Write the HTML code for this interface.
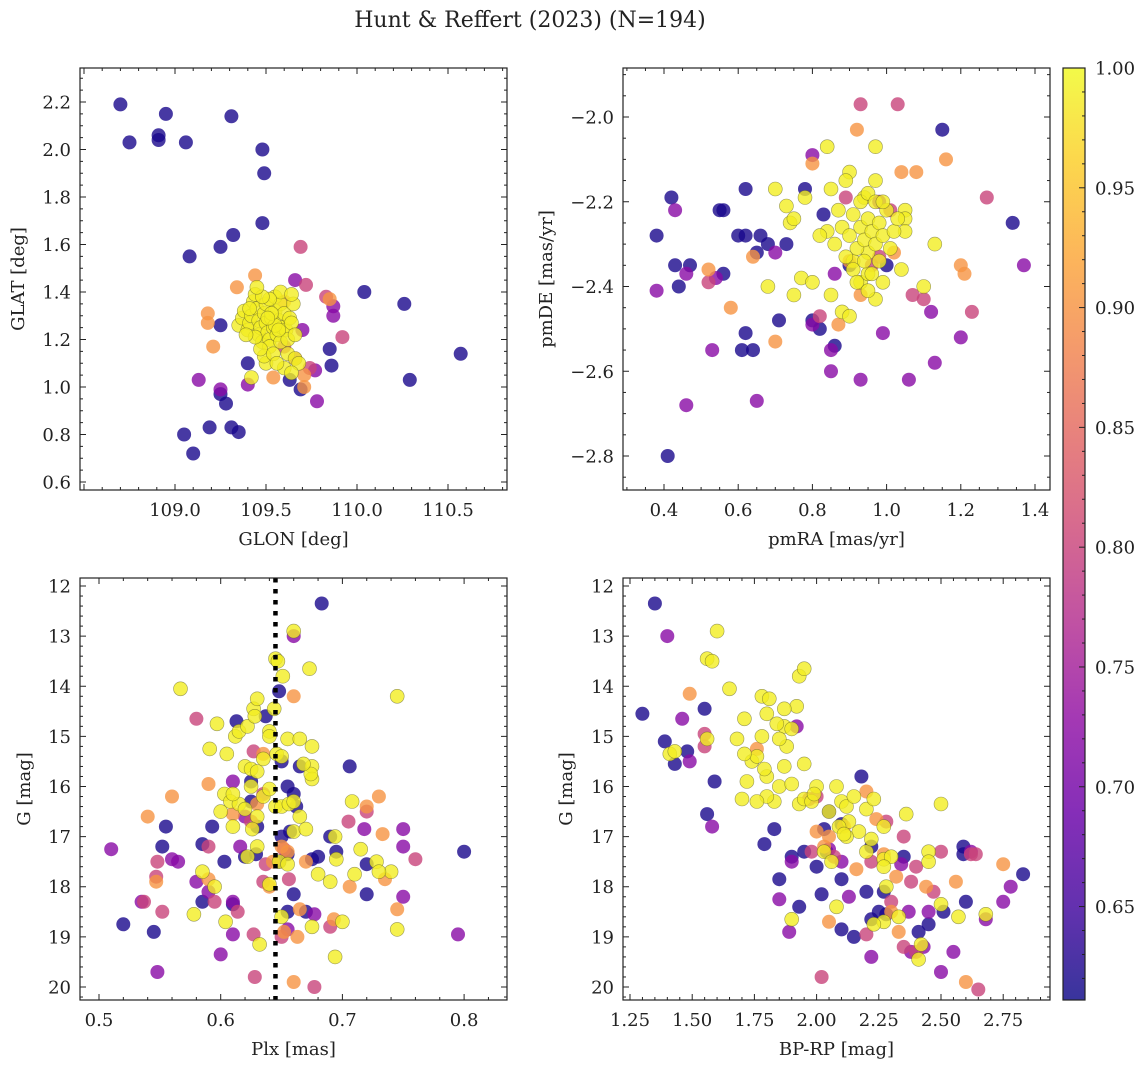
<!DOCTYPE html>
<html><head><meta charset="utf-8"><style>
html,body{margin:0;padding:0;background:#fff}
svg text{font-family:"DejaVu Serif","Liberation Serif",serif;fill:#222}
</style></head><body>
<svg id="fig" width="1148" height="1068" viewBox="0 0 1148 1068" xmlns="http://www.w3.org/2000/svg">
<text x="530" y="27" font-size="22" text-anchor="middle">Hunt &amp; Reffert (2023) (N=194)</text>
</svg>
<script>
// ---- data (value arrays) ----
const probLevels = [0.62, 0.72, 0.80, 0.90, 0.99];
// panel 1: [glon, glat, level index]
const glonGlat = [
[108.70,2.19,0],[108.75,2.03,0],[108.91,2.06,0],[108.91,2.04,0],[108.95,2.15,0],[109.06,2.03,0],[109.31,2.14,0],[109.48,2.00,0],[109.49,1.90,0],[109.48,1.69,0],[109.32,1.64,0],[109.25,1.59,0],[109.08,1.55,0],[110.04,1.40,0],[110.26,1.35,0],[110.57,1.14,0],[110.29,1.03,0],[109.85,1.16,0],[109.86,1.09,0],[109.19,0.83,0],[109.31,0.83,0],[109.35,0.81,0],[109.05,0.80,0],[109.10,0.72,0],[109.25,0.97,0],[109.28,0.93,0],[109.40,1.10,0],[109.25,1.26,0],[109.63,1.03,0],[109.69,0.99,0],
[109.13,1.03,1],[109.25,0.99,1],[109.40,1.01,1],[109.66,1.45,1],[109.87,1.34,1],[109.78,0.94,1],[109.77,1.07,1],[109.87,1.30,1],[109.70,1.24,1],
[109.69,1.59,2],[109.92,1.21,2],[109.72,1.43,2],[109.83,1.38,2],[109.74,1.08,2],[109.60,1.17,2],[109.66,1.12,2],
[109.44,1.47,3],[109.34,1.42,3],[109.18,1.31,3],[109.21,1.17,3],[109.18,1.27,3],[109.85,1.37,3],[109.71,1.05,3],[109.54,1.04,3],[109.71,1.00,3],[109.60,1.36,3],
[109.35,1.26,4],[109.37,1.29,4],[109.38,1.32,4],[109.40,1.24,4],[109.41,1.27,4],[109.42,1.30,4],[109.43,1.36,4],[109.44,1.39,4],[109.45,1.33,4],[109.46,1.28,4],[109.46,1.22,4],[109.47,1.25,4],[109.48,1.19,4],[109.49,1.31,4],[109.50,1.35,4],[109.50,1.27,4],[109.51,1.23,4],[109.52,1.20,4],[109.52,1.17,4],[109.53,1.29,4],[109.54,1.25,4],[109.55,1.32,4],[109.55,1.38,4],[109.56,1.22,4],[109.57,1.28,4],[109.58,1.35,4],[109.58,1.19,4],[109.59,1.25,4],[109.60,1.31,4],[109.61,1.24,4],[109.62,1.20,4],[109.63,1.29,4],[109.64,1.27,4],[109.65,1.35,4],[109.66,1.22,4],[109.62,1.14,4],[109.66,1.12,4],[109.68,1.10,4],[109.60,1.08,4],[109.64,1.06,4],[109.50,1.10,4],[109.49,1.13,4],[109.47,1.16,4],[109.58,1.40,4],[109.52,1.37,4],[109.48,1.38,4],[109.54,1.14,4],[109.56,1.10,4],[109.44,1.21,4],[109.39,1.22,4],[109.41,1.33,4],[109.64,1.39,4],[109.45,1.42,4],[109.42,1.04,4],[109.55,1.26,4],[109.53,1.31,4],[109.57,1.24,4],[109.51,1.29,4]];
// panel 2: [pmRA, pmDE, level]
const pmraPmde = [
[0.38,-2.28,0],[0.42,-2.19,0],[0.43,-2.35,0],[0.47,-2.35,0],[0.44,-2.40,0],[0.41,-2.80,0],[0.55,-2.22,0],[0.56,-2.22,0],[0.56,-2.37,0],[0.60,-2.28,0],[0.62,-2.17,0],[0.62,-2.28,0],[0.62,-2.51,0],[0.61,-2.55,0],[0.64,-2.55,0],[0.65,-2.32,0],[0.66,-2.28,0],[0.68,-2.30,0],[0.71,-2.48,0],[0.73,-2.30,0],[0.78,-2.17,0],[0.80,-2.48,0],[0.82,-2.50,0],[0.86,-2.54,0],[0.83,-2.23,0],[0.90,-2.35,0],[1.00,-2.35,0],[1.15,-2.03,0],[1.34,-2.25,0],
[0.43,-2.22,1],[0.38,-2.41,1],[0.46,-2.37,1],[0.46,-2.68,1],[0.54,-2.38,1],[0.53,-2.55,1],[0.65,-2.67,1],[0.70,-2.32,1],[0.80,-2.49,1],[0.85,-2.60,1],[0.85,-2.55,1],[0.86,-2.37,1],[0.80,-2.09,1],[0.99,-2.51,1],[0.93,-2.62,1],[1.06,-2.62,1],[1.37,-2.35,1],[1.12,-2.46,1],[1.20,-2.52,1],[1.13,-2.58,1],[0.98,-2.20,1],
[0.52,-2.39,2],[0.93,-1.97,2],[1.03,-1.97,2],[1.27,-2.19,2],[0.89,-2.19,2],[1.23,-2.46,2],[1.10,-2.43,2],[1.07,-2.42,2],[1.01,-2.22,2],[0.96,-2.35,2],[0.98,-2.33,2],[0.82,-2.47,2],
[0.52,-2.36,3],[0.58,-2.45,3],[0.70,-2.53,3],[0.64,-2.33,3],[0.92,-2.03,3],[1.16,-2.10,3],[1.04,-2.13,3],[1.08,-2.13,3],[0.80,-2.11,3],[1.21,-2.37,3],[1.20,-2.35,3],[0.93,-2.42,3],[0.87,-2.49,3],[0.90,-2.34,3],[1.02,-2.32,3],
[0.84,-2.07,4],[0.97,-2.15,4],[0.68,-2.40,4],[0.75,-2.42,4],[0.77,-2.38,4],[0.80,-2.39,4],[0.74,-2.25,4],[0.73,-2.21,4],[0.75,-2.24,4],[0.70,-2.17,4],[0.78,-2.19,4],[0.88,-2.46,4],[0.93,-2.39,4],[0.97,-2.43,4],[1.10,-2.40,4],[0.99,-2.39,4],[0.91,-2.34,4],[0.95,-2.32,4],[0.95,-2.37,4],[1.04,-2.36,4],[1.13,-2.30,4],[1.05,-2.22,4],[1.05,-2.24,4],[1.05,-2.27,4],[0.97,-2.07,4],[0.90,-2.13,4],[0.89,-2.15,4],[0.94,-2.19,4],[0.85,-2.17,4],
[0.86,-2.30,4],[0.88,-2.26,4],[0.90,-2.28,4],[0.91,-2.23,4],[0.92,-2.31,4],[0.93,-2.26,4],[0.94,-2.29,4],[0.95,-2.24,4],[0.96,-2.27,4],[0.97,-2.30,4],[0.98,-2.25,4],[0.99,-2.28,4],[1.00,-2.22,4],[1.01,-2.31,4],[0.93,-2.20,4],[0.95,-2.18,4],[0.97,-2.20,4],[0.89,-2.33,4],[0.91,-2.36,4],[0.94,-2.34,4],[0.96,-2.37,4],[0.98,-2.34,4],[1.02,-2.27,4],[0.87,-2.22,4],[0.84,-2.27,4],[0.82,-2.28,4],[0.99,-2.20,4],[1.03,-2.24,4],[0.92,-2.39,4],[0.95,-2.41,4],[0.85,-2.42,4],[0.90,-2.47,4]];
// panel 3: [plx, G, level]
const plxG = [
[0.683,12.35,0],[0.662,16.4,0],[0.648,14.1,0],[0.637,14.6,0],[0.65,15.5,0],[0.655,16.0,0],[0.665,15.6,0],[0.66,16.15,0],[0.706,15.6,0],[0.695,17.3,0],[0.69,17.0,0],[0.675,17.45,0],[0.655,17.35,0],[0.629,17.35,0],[0.648,17.5,0],[0.63,16.8,0],[0.625,16.3,0],[0.593,16.8,0],[0.585,17.15,0],[0.555,16.8,0],[0.552,17.2,0],[0.603,17.5,0],[0.62,17.4,0],[0.61,18.35,0],[0.585,18.3,0],[0.52,18.75,0],[0.545,18.9,0],[0.655,18.5,0],[0.67,18.5,0],[0.66,18.15,0],[0.72,18.15,0],[0.72,17.55,0],[0.80,17.3,0],[0.65,17.0,0],[0.657,16.9,0],[0.625,15.9,0],[0.613,14.7,0],[0.68,17.4,0],
[0.51,17.25,1],[0.56,17.45,1],[0.548,19.7,1],[0.535,18.3,1],[0.58,17.9,1],[0.61,18.3,1],[0.61,18.95,1],[0.616,17.2,1],[0.66,13.0,1],[0.61,15.9,1],[0.62,16.6,1],[0.655,18.85,1],[0.677,18.55,1],[0.75,16.85,1],[0.75,17.2,1],[0.718,16.85,1],[0.795,18.95,1],[0.565,17.5,1],[0.60,19.35,1],[0.75,18.2,1],[0.59,18.1,1],
[0.58,14.65,2],[0.627,15.3,2],[0.59,17.2,2],[0.548,17.5,2],[0.547,17.8,2],[0.552,18.5,2],[0.625,16.7,2],[0.637,17.55,2],[0.635,17.9,2],[0.652,17.25,2],[0.656,17.85,2],[0.705,16.7,2],[0.76,17.45,2],[0.614,18.5,2],[0.627,18.95,2],[0.69,18.8,2],[0.677,20.0,2],[0.628,19.8,2],[0.595,18.3,2],[0.537,18.3,2],[0.65,19.0,2],[0.635,16.15,2],[0.72,16.5,2],
[0.66,14.2,3],[0.56,16.2,3],[0.65,17.2,3],[0.61,16.55,3],[0.59,15.95,3],[0.54,16.6,3],[0.547,17.9,3],[0.59,17.85,3],[0.63,16.35,3],[0.635,15.35,3],[0.655,17.3,3],[0.665,18.45,3],[0.67,17.5,3],[0.706,18.0,3],[0.72,16.4,3],[0.73,16.2,3],[0.733,16.95,3],[0.735,17.85,3],[0.66,19.9,3],[0.652,18.9,3],[0.693,18.65,3],[0.663,19.0,3],[0.643,17.5,3],[0.745,18.45,3],[0.64,18.0,3],
[0.567,14.05,4],[0.597,14.75,4],[0.591,15.25,4],[0.605,15.35,4],[0.612,15.0,4],[0.615,14.9,4],[0.622,14.8,4],[0.627,14.45,4],[0.63,14.25,4],[0.628,14.6,4],[0.640,14.9,4],[0.644,14.45,4],[0.645,13.45,4],[0.647,13.5,4],[0.651,13.8,4],[0.660,12.9,4],[0.673,13.65,4],[0.646,15.35,4],[0.65,15.4,4],[0.655,15.05,4],[0.665,15.05,4],[0.675,15.2,4],[0.675,15.6,4],[0.675,15.85,4],[0.674,15.75,4],[0.668,15.55,4],[0.62,15.6,4],[0.625,15.65,4],[0.63,15.7,4],[0.635,15.45,4],[0.64,15.0,4],[0.603,16.15,4],[0.608,16.3,4],[0.615,16.35,4],[0.62,16.45,4],[0.63,16.6,4],[0.635,16.2,4],[0.64,16.05,4],[0.645,16.4,4],[0.65,16.4,4],[0.656,16.35,4],[0.66,16.3,4],[0.66,16.9,4],[0.665,16.6,4],[0.67,16.85,4],[0.63,17.2,4],[0.626,16.85,4],[0.61,16.8,4],[0.60,16.5,4],[0.648,17.5,4],[0.655,17.55,4],[0.694,17.0,4],[0.695,17.45,4],[0.68,17.75,4],[0.69,17.9,4],[0.71,17.75,4],[0.715,17.25,4],[0.708,16.3,4],[0.745,14.2,4],[0.74,17.7,4],[0.745,18.85,4],[0.578,18.55,4],[0.585,17.7,4],[0.604,18.7,4],[0.632,19.15,4],[0.65,18.6,4],[0.675,18.8,4],[0.694,19.4,4],[0.622,17.4,4],[0.595,18.0,4],[0.64,17.95,4],[0.625,16.0,4],[0.61,16.15,4],[0.70,18.7,4],[0.728,17.5,4],[0.73,17.7,4]];
// panel 4: [bp-rp, G, level]
const bprpG = [
[1.35,12.35,0],[1.30,14.55,0],[1.39,15.1,0],[1.43,15.55,0],[1.48,15.3,0],[1.55,14.45,0],[1.59,15.9,0],[1.56,16.55,0],[1.83,16.85,0],[1.85,17.85,0],[1.79,17.15,0],[1.90,17.4,0],[1.95,17.3,0],[2.05,16.5,0],[2.03,16.85,0],[2.04,17.3,0],[2.0,17.6,0],[2.02,18.15,0],[2.1,16.75,0],[2.1,17.85,0],[2.18,15.8,0],[2.22,17.2,0],[2.20,18.1,0],[2.22,18.65,0],[2.25,18.5,0],[2.1,18.85,0],[2.15,19.0,0],[2.35,17.4,0],[2.27,18.1,0],[2.28,18.55,0],[2.45,18.75,0],[2.51,18.5,0],[2.59,17.2,0],[2.59,17.35,0],[2.83,17.75,0],[2.6,18.3,0],[2.41,18.9,0],[1.93,18.4,0],
[1.40,13.0,1],[1.46,14.65,1],[1.49,15.5,1],[1.58,16.8,1],[1.92,14.8,1],[1.85,18.25,1],[1.89,18.9,1],[2.1,17.5,1],[2.13,18.2,1],[2.22,19.4,1],[2.37,18.5,1],[2.38,19.3,1],[2.43,19.2,1],[2.5,19.7,1],[2.55,19.3,1],[2.68,18.65,1],[2.78,18.0,1],[2.75,18.3,1],[2.34,17.55,1],[1.90,17.5,1],[2.05,17.25,1],[2.62,17.3,1],[2.45,18.5,1],
[1.55,15.2,2],[1.97,16.25,2],[2.00,16.2,2],[2.64,17.35,2],[2.62,17.35,2],[1.98,17.3,2],[2.07,17.4,2],[2.22,17.5,2],[2.35,17.0,2],[2.4,17.6,2],[2.47,18.1,2],[2.35,19.2,2],[2.4,19.3,2],[2.02,19.8,2],[2.65,20.05,2],[2.3,18.3,2],[2.38,17.9,2],[2.2,18.95,2],[1.55,14.95,2],[2.5,17.3,2],[2.28,16.7,2],
[1.49,14.15,3],[1.76,15.25,3],[2.20,16.1,3],[2.24,16.65,3],[2.11,16.8,3],[2.05,17.0,3],[2.27,17.35,3],[2.03,17.2,3],[2.56,17.9,3],[2.75,17.55,3],[2.30,18.5,3],[2.33,18.9,3],[2.44,18.0,3],[2.32,17.8,3],[2.05,18.7,3],[2.6,19.9,3],[2.16,17.65,3],[2.0,16.9,3],
[1.60,12.9,4],[1.56,13.45,4],[1.58,13.5,4],[1.65,14.05,4],[1.41,15.35,4],[1.43,15.3,4],[1.56,15.05,4],[1.71,14.65,4],[1.78,14.2,4],[1.81,14.25,4],[1.80,14.55,4],[1.93,13.8,4],[1.95,13.65,4],[1.92,14.4,4],[1.95,15.55,4],[2.0,16.0,4],[1.87,14.45,4],[1.87,14.8,4],[1.88,15.2,4],[1.90,14.85,4],[1.84,14.75,4],[1.74,15.5,4],[1.76,15.4,4],[1.78,15.0,4],[1.85,15.05,4],[1.80,15.8,4],[1.79,15.65,4],[1.71,15.35,4],[1.68,15.05,4],[1.72,15.9,4],[1.70,16.25,4],[1.85,16.0,4],[1.87,15.6,4],[1.90,15.95,4],[1.83,16.3,4],[1.80,16.2,4],[1.76,16.3,4],[1.93,16.35,4],[1.95,16.25,4],[1.98,16.3,4],[1.99,16.15,4],[2.05,16.5,4],[2.1,16.3,4],[2.12,16.4,4],[2.15,16.2,4],[2.13,16.7,4],[2.2,16.45,4],[2.17,16.9,4],[2.09,16.8,4],[2.12,17.0,4],[2.03,17.3,4],[2.23,16.25,4],[2.36,16.55,4],[2.20,17.3,4],[2.27,16.8,4],[2.27,17.45,4],[2.30,17.4,4],[2.28,18.0,4],[2.27,17.6,4],[2.22,17.05,4],[2.45,17.3,4],[2.50,16.35,4],[2.45,17.5,4],[2.27,18.7,4],[2.23,18.75,4],[2.33,18.6,4],[2.42,19.15,4],[2.41,19.45,4],[2.57,18.6,4],[2.68,18.55,4],[2.5,18.35,4],[1.9,18.65,4],[2.08,18.4,4],[2.06,17.5,4],[2.08,16.0,4],[2.11,16.95,4]];
const plxLine = [0.645];
const cbTicks = [0.65,0.70,0.75,0.80,0.85,0.90,0.95,1.00];
const cbMin = 0.611, cbMax = 1.0;

// ---- helpers ----
const NS="http://www.w3.org/2000/svg";
const svg=document.getElementById('fig');
function mk(tag,attrs,parent){const e=document.createElementNS(NS,tag);for(const k in attrs)e.setAttribute(k,attrs[k]);(parent||svg).appendChild(e);return e;}
const plasma=[[13,8,135],[65,4,157],[106,0,168],[143,13,164],[177,42,144],[204,71,120],[225,100,98],[242,132,75],[252,166,54],[252,206,37],[240,249,33]];
function cmap(v){let t=(v-cbMin)/(cbMax-cbMin);t=Math.max(0,Math.min(1,t))*10;const i=Math.min(9,Math.floor(t)),f=t-i;const a=plasma[i],b=plasma[i+1];return `rgb(${Math.round(a[0]+(b[0]-a[0])*f)},${Math.round(a[1]+(b[1]-a[1])*f)},${Math.round(a[2]+(b[2]-a[2])*f)})`;}

function panel(cfg){
  const g=mk('g',{});
  
  
  const {L,T,R,B,xmin,xmax,ymin,ymax,yinv}=cfg;
  const sx=v=>L+(v-xmin)/(xmax-xmin)*(R-L);
  const sy=v=>yinv? T+(v-ymin)/(ymax-ymin)*(B-T) : B-(v-ymin)/(ymax-ymin)*(B-T);
  const cp='clip-'+cfg.name;
  const cl=mk('clipPath',{id:cp},g);mk('rect',{x:L,y:T,width:R-L,height:B-T},cl);
  const pts=mk('g',{'clip-path':`url(#${cp})`},g);
  const sorted=cfg.data.slice().sort((a,b)=>a[2]-b[2]);
  sorted.forEach(d=>{
    const p=probLevels[d[2]];
    const c=mk('circle',{cx:sx(d[0]).toFixed(1),cy:sy(d[1]).toFixed(1),r:7,fill:cmap(p),'fill-opacity':0.8,stroke:p>0.95?'rgba(90,90,40,0.6)':'none','stroke-width':0.6},pts);
    
    
  });
  if(cfg.vline){cfg.vline.forEach(v=>{const l=mk('line',{x1:sx(v),x2:sx(v),y1:T,y2:B,stroke:'#000','stroke-width':4.5,'stroke-dasharray':'4.5 6.5'},g);
    
    });}
  const fr=mk('rect',{x:L,y:T,width:R-L,height:B-T,fill:'none',stroke:'#222','stroke-width':1.2},g);
  
  
  const tk=mk('g',{stroke:'#222','stroke-width':1},g);
  const eps=1e-9;
  for(let v=Math.ceil(xmin/cfg.xminor-eps)*cfg.xminor;v<=xmax+eps;v+=cfg.xminor){
    const major=Math.abs(v/cfg.xmajor-Math.round(v/cfg.xmajor))<1e-6;const len=major?6:3;const x=sx(v);
    mk('line',{x1:x,x2:x,y1:B,y2:B-len},tk);mk('line',{x1:x,x2:x,y1:T,y2:T+len},tk);
    if(major && x>L+5){const t=mk('text',{x:x,y:B+26,'font-size':18,'text-anchor':'middle'},g);t.textContent=cfg.xfmt(v);
      
      }
  }
  for(let v=Math.ceil(ymin/cfg.yminor-eps)*cfg.yminor;v<=ymax+eps;v+=cfg.yminor){
    const major=Math.abs(v/cfg.ymajor-Math.round(v/cfg.ymajor))<1e-6;const len=major?6:3;const y=sy(v);
    mk('line',{x1:L,x2:L+len,y1:y,y2:y},tk);mk('line',{x1:R,x2:R-len,y1:y,y2:y},tk);
    if(major){const t=mk('text',{x:L-9,y:y+6.5,'font-size':18,'text-anchor':'end'},g);t.textContent=cfg.yfmt(v);
      
      }
  }
  const xl=mk('text',{x:(L+R)/2,y:B+55,'font-size':18,'text-anchor':'middle'},g);xl.textContent=cfg.xlabel;
  
  
  const yx=cfg.ylabelX, yc=(T+B)/2;
  const yl=mk('text',{x:yx,y:yc,'font-size':18,'text-anchor':'middle',transform:`rotate(-90 ${yx} ${yc})`},g);yl.textContent=cfg.ylabel;
  
  
}
const neg=s=>s.replace('-','\u2212');
panel({name:'glon-glat-panel',L:80,T:68,R:507,B:490,xmin:109+(80-175)/182,xmax:109+(507-175)/182,ymin:0.6-8/237.5,ymax:2.2+34/237.5,
  xmajor:0.5,xminor:0.1,ymajor:0.2,yminor:0.05,xfmt:v=>v.toFixed(1),yfmt:v=>v.toFixed(1),xlabel:'GLON [deg]',ylabel:'GLAT [deg]',ylabelX:24,data:glonGlat});
panel({name:'proper-motion-panel',L:623,T:68,R:1050,B:490,xmin:0.4+(623-664)/371,xmax:0.4+(1050-664)/371,ymin:-2.8-(490-456)/423.75,ymax:-2.0+(117-68)/423.75,
  xmajor:0.2,xminor:0.05,ymajor:0.2,yminor:0.05,xfmt:v=>v.toFixed(1),yfmt:v=>neg(v.toFixed(1)),xlabel:'pmRA [mas/yr]',ylabel:'pmDE [mas/yr]',ylabelX:552,data:pmraPmde});
panel({name:'parallax-magnitude-panel',L:80,T:578,R:507,B:1000,xmin:0.5+(80-99)/1217,xmax:0.5+(507-99)/1217,ymin:12-(586-578)/50.1,ymax:20+(1000-987)/50.1,yinv:true,
  xmajor:0.1,xminor:0.02,ymajor:1,yminor:0.2,xfmt:v=>v.toFixed(1),yfmt:v=>String(Math.round(v)),xlabel:'Plx [mas]',ylabel:'G [mag]',ylabelX:30,data:plxG,vline:plxLine});
panel({name:'color-magnitude-panel',L:623,T:578,R:1050,B:1000,xmin:1.25+(623-630)/248.8,xmax:1.25+(1050-630)/248.8,ymin:12-(586-578)/50.1,ymax:20+(1000-987)/50.1,yinv:true,
  xmajor:0.25,xminor:0.05,ymajor:1,yminor:0.2,xfmt:v=>v.toFixed(2),yfmt:v=>String(Math.round(v)),xlabel:'BP-RP [mag]',ylabel:'G [mag]',ylabelX:572,data:bprpG});

(function(){
  const L=1063,R=1085,T=68,B=1000;
  const defs=mk('defs',{});
  const lg=mk('linearGradient',{id:'plasmaGrad',x1:0,y1:1,x2:0,y2:0},defs);
  plasma.forEach((c,i)=>mk('stop',{offset:(i/10),'stop-color':`rgb(${c[0]},${c[1]},${c[2]})`},lg));
  const g=mk('g',{});
  
  
  mk('rect',{x:L,y:T,width:R-L,height:B-T,fill:'url(#plasmaGrad)','fill-opacity':0.82},g);
  mk('rect',{x:L,y:T,width:R-L,height:B-T,fill:'none',stroke:'#222','stroke-width':1.2},g);
  const sy=v=>B-(v-cbMin)/(cbMax-cbMin)*(B-T);
  for(let k=Math.ceil(cbMin*100);k<=100;k++){const y=sy(k/100);const major=k%5===0;mk('line',{x1:R,x2:R-(major?6:3),y1:y,y2:y,stroke:'#222','stroke-width':1},g);}
  cbTicks.forEach(v=>{const t=mk('text',{x:R+10,y:sy(v)+6.5,'font-size':18},g);t.textContent=v.toFixed(2);
    
    });
})();
</script>
</body></html>
